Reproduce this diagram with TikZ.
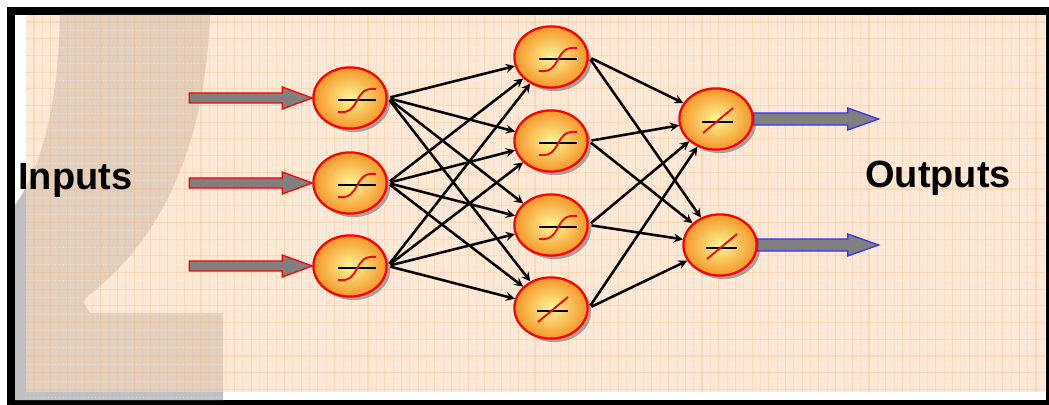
\documentclass[tikz,border=0pt]{standalone}
\usepackage{fontspec}
\setmainfont{Liberation Sans}
\usetikzlibrary{arrows,shapes.geometric,shadows}
\definecolor{peach}{RGB}{250,217,187}
\definecolor{gridor}{RGB}{250,180,110}
\definecolor{ballout}{RGB}{245,150,40}
\definecolor{ballin}{RGB}{255,246,150}
\definecolor{leaf}{RGB}{192,192,194}

\begin{document}
\begin{tikzpicture}[x=0.025cm, y=-0.025cm, >=stealth,
  neuron/.style={ellipse, draw=red, line width=1.6pt, inner color=ballin, outer color=ballout,
    minimum width=1.83cm, minimum height=1.53cm,
    drop shadow={shadow xshift=2.5pt, shadow yshift=-2.5pt, fill=black!70, opacity=0.45}},
  link/.style={->, line width=1.8pt, shorten <=2pt},
  fatin/.style={draw=red, fill=gray, line width=0.9pt},
  fatout/.style={draw=blue!80, fill=gray, line width=0.9pt},
  label/.style={font=\fontsize{27}{32}\selectfont\bfseries, inner sep=0pt},
  sig/.pic={
    \draw[black, line width=1pt] (-12,2) -- (26,2);
    \draw[red, line width=1.3pt] (-12,14) .. controls (12,17) and (2,-12) .. (26,-9);
  },
  lin/.pic={
    \draw[black, line width=1pt] (-14,3) -- (17,3);
    \draw[red, line width=1.3pt] (-13,14) -- (17,-11);
  }]
\useasboundingbox (0,0) rectangle (1049,405);
%%%%% Frame %%%%%
\fill[white] (0,0) rectangle (1049,405);
\fill[black] (7,7) rectangle (1049,405);
\fill[white] (15,15) rectangle (1046,400);
\fill[leaf] (60,15) -- (210,15) .. controls (205,150) and (160,240) .. (88,296) -- (83,302)
  -- (90,313) -- (223,313) -- (223,400) -- (15,400) -- (15,205)
  .. controls (40,170) and (58,110) .. (60,15) -- cycle;
\fill[peach, opacity=0.6] (26,15) rectangle (1045,392);
\foreach \i in {34,50.7,...,1040}{
\draw[gridor, line width=0.8pt, opacity=0.3] (\i,15)--(\i,392);
\draw[gridor, line width=0.5pt, opacity=0.15] (\i+8.3,15)--(\i+8.3,392);
}
\foreach \i in {22,38.7,...,390}{
\draw[gridor, line width=0.8pt, opacity=0.25] (26,\i)--(1045,\i);
\draw[white, line width=0.6pt, opacity=0.35, dotted] (26,\i+8.3)--(1045,\i+8.3);
}
%%%%% Neurons %%%%%
\node[neuron] (a1) at (350,98) {};
\node[neuron] (a2) at (350,183) {};
\node[neuron] (a3) at (350,266) {};
\node[neuron] (b1) at (551,57) {};
\node[neuron] (b2) at (551,141) {};
\node[neuron] (b3) at (551,225) {};
\node[neuron] (b4) at (551,308) {};
\node[neuron] (c1) at (716,119) {};
\node[neuron] (c2) at (720,245) {};
\foreach \n in {a1,a2,a3,b1,b2,b3}{
\pic at (\n) {sig};
}
\foreach \n in {b4,c1,c2}{
\pic at (\n) {lin};
}
%%%%% Links %%%%%
\foreach \i in {1,2,3}{
\foreach \j in {1,...,4}{
\draw[link] (a\i.east) -- (b\j);
}}
\foreach \i in {1,...,4}{
\foreach \j in {1,2}{
\draw[link] (b\i.east) -- (c\j);
}}
%%%%% Inputs and outputs %%%%%
\foreach \n in {a1,a2,a3}{
\draw[fatin] (\n.west) -- ++(-30,-11) -- ++(0,6) -- ++(-93,0) -- ++(0,10) -- ++(93,0) -- ++(0,6) -- cycle;
}
\draw[fatout] (c1.east) -- ++(0,-6) -- ++(94,0) -- ++(0,-5) -- ++(31,11) -- ++(-31,11) -- ++(0,-5) -- ++(-94,0) -- cycle;
\draw[fatout] (c2.east) -- ++(0,-6) -- ++(90,0) -- ++(0,-5) -- ++(31,11) -- ++(-31,11) -- ++(0,-5) -- ++(-90,0) -- cycle;
\node[label, anchor=base west] (inputs) at (18,190) {Inputs};
\node[label, anchor=base west] (outputs) at (865,188) {Outputs};
\end{tikzpicture}
\end{document}
